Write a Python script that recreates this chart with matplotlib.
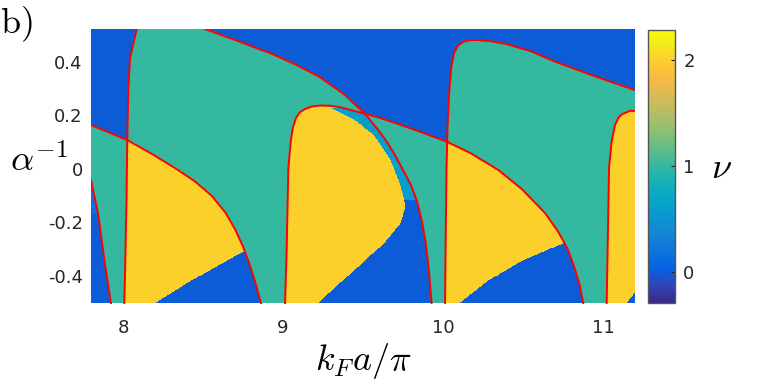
import numpy as np
import matplotlib
matplotlib.use('Agg')
import matplotlib.pyplot as plt
from matplotlib.path import Path
from matplotlib.colors import LinearSegmentedColormap

# phase boundaries: (k_F a/pi, 1/alpha)
d6_k = [7.800, 7.846, 7.888, 7.925]
d6_a = [-0.041, -0.172, -0.359, -0.503]
d7_k = [7.800, 8.027, 8.181, 8.344, 8.450, 8.554, 8.640, 8.700, 8.750, 8.790, 8.825, 8.848, 8.863]
d7_a = [0.164, 0.108, 0.056, -0.004, -0.047, -0.100, -0.163, -0.225, -0.290, -0.355, -0.421, -0.470, -0.503]
d8_rise_k = [8.008, 8.013, 8.022, 8.027, 8.033, 8.044, 8.086]
d8_rise_a = [-0.503, -0.385, -0.116, 0.116, 0.288, 0.415, 0.523]
d8_fall_k = [8.513, 8.700, 8.931, 9.080, 9.231, 9.380, 9.513, 9.600, 9.648, 9.700, 9.750,
             9.800, 9.840, 9.870, 9.893, 9.912, 9.929]
d8_fall_a = [0.523, 0.482, 0.430, 0.390, 0.343, 0.280, 0.206, 0.142, 0.102, 0.052, -0.004,
             -0.060, -0.125, -0.200, -0.280, -0.380, -0.503]
d9_k = [9.013, 9.023, 9.033, 9.039, 9.048, 9.061, 9.081, 9.106, 9.138, 9.179, 9.231, 9.294, 9.356,
        9.513, 9.606, 9.825, 10.023, 10.169, 10.346, 10.492, 10.638, 10.720, 10.780, 10.825, 10.855, 10.877]
d9_a = [-0.503, -0.303, -0.004, 0.040, 0.102, 0.152, 0.190, 0.212, 0.224, 0.233, 0.237, 0.236, 0.231,
        0.206, 0.191, 0.146, 0.102, 0.060, -0.004, -0.075, -0.165, -0.235, -0.300, -0.375, -0.435, -0.503]
d10_k = [10.013, 10.018, 10.022, 10.028, 10.038, 10.052, 10.070, 10.096, 10.130, 10.170, 10.210,
         10.290, 10.388, 10.550, 10.700, 10.850, 11.013, 11.200]
d10_a = [-0.503, -0.200, 0.000, 0.150, 0.280, 0.380, 0.435, 0.462, 0.476, 0.481, 0.482,
         0.478, 0.468, 0.440, 0.401, 0.368, 0.333, 0.295]
d11_k = [11.023, 11.038, 11.054, 11.075, 11.095, 11.117, 11.169, 11.200]
d11_a = [-0.503, 0.007, 0.102, 0.164, 0.190, 0.204, 0.217, 0.217]

# edges of the nu = 0 pockets at the bottom of the nu = 2 lobes
z78_k = [8.200, 8.388, 8.575, 8.763]
z78_a = [-0.503, -0.434, -0.370, -0.309]
z89_k = [9.221, 9.439, 9.627, 9.731, 9.763, 9.756, 9.731, 9.669, 9.564, 9.439, 9.294]
z89_a = [-0.503, -0.384, -0.284, -0.209, -0.147, -0.116, -0.060, 0.034, 0.127, 0.183, 0.227]
z910_k = [10.106, 10.281, 10.492, 10.763]
z910_a = [-0.503, -0.421, -0.347, -0.278]
z1011_k = [11.148, 11.200]
z1011_a = [-0.503, -0.465]

xlim = (7.8, 11.2)
ylim = (-0.503, 0.523)
clim = (-0.295, 2.28)

# parula-like colormap
parula = LinearSegmentedColormap.from_list('parula', [
    (0 / 63, (0.2081, 0.1663, 0.5292)), (4 / 63, (0.1959, 0.2645, 0.7279)),
    (8 / 63, (0.0117, 0.3875, 0.8820)), (12 / 63, (0.0498, 0.4586, 0.8641)),
    (16 / 63, (0.0793, 0.5200, 0.8312)), (20 / 63, (0.0343, 0.5966, 0.8199)),
    (24 / 63, (0.0228, 0.6535, 0.7768)), (28 / 63, (0.0843, 0.6928, 0.7062)),
    (32 / 63, (0.2178, 0.7250, 0.6193)), (36 / 63, (0.3953, 0.7459, 0.5244)),
    (40 / 63, (0.5709, 0.7485, 0.4494)), (44 / 63, (0.7184, 0.7411, 0.3905)),
    (48 / 63, (0.8507, 0.7299, 0.3360)), (52 / 63, (0.9739, 0.7314, 0.2666)),
    (56 / 63, (0.9880, 0.8066, 0.1794)), (60 / 63, (0.9598, 0.9218, 0.0948)),
    (63 / 63, (0.9763, 0.9831, 0.0538))])


def dome(k, a, left=False, right=False):
    pts = list(zip(k, a))
    if left:
        pts = [(7.5, a[0])] + pts
    if right:
        pts = pts + [(11.5, a[-1])]
    pts += [(pts[-1][0], -0.9), (pts[0][0], -0.9)]
    return Path(pts)


def pocket(k, a, xr):
    pts = list(zip(k, a)) + [(xr, a[-1]), (xr, -0.9), (k[0], -0.9)]
    return Path(pts)


K, A = np.meshgrid(np.linspace(*xlim, 1100), np.linspace(*ylim, 560))
P = np.column_stack([K.ravel(), A.ravel()])


def mask(path):
    return path.contains_points(P).reshape(K.shape)


domes = [dome(d6_k, d6_a, left=True), dome(d7_k, d7_a, left=True),
         dome(d8_rise_k + d8_fall_k, d8_rise_a + d8_fall_a), dome(d9_k, d9_a),
         dome(d10_k, d10_a, right=True), dome(d11_k, d11_a, right=True)]
inside = [mask(d) for d in domes]
count = np.sum(inside, axis=0)
nu = count.astype(float)

# nu = 0 pockets inside the overlaps
two = count == 2
nu[inside[0] & inside[1]] = 0
nu[inside[0] & inside[1] & (A > -0.17)] = 0.15
for path in [pocket(z78_k, z78_a, 8.95), pocket(z910_k, z910_a, 10.95),
             pocket(z1011_k, z1011_a, 11.5)]:
    nu[two & mask(path)] = 0
m89 = two & mask(pocket(z89_k, z89_a, 9.99))
nu[m89] = 0
nu[m89 & (A > -0.12)] = 0.6

plt.rcParams['mathtext.fontset'] = 'cm'
plt.rcParams['font.family'] = 'DejaVu Sans'

fig = plt.figure(figsize=(7.69, 3.85), dpi=100)
ax = fig.add_axes([91 / 769, 81.5 / 385, 544 / 769, 274.5 / 385])
im = ax.imshow(nu, extent=[*xlim, *ylim], origin='lower', aspect='auto',
               cmap=parula, vmin=clim[0], vmax=clim[1], interpolation='nearest')

red = dict(color='#ff0000', lw=1.4)
ax.plot(d6_k, d6_a, **red)
ax.plot(d7_k, d7_a, **red)
ax.plot(d8_rise_k, d8_rise_a, **red)
ax.plot(d8_fall_k, d8_fall_a, **red)
ax.plot(d9_k, d9_a, **red)
ax.plot(d10_k, d10_a, **red)
ax.plot(d11_k, d11_a, **red)

ax.set_xlim(xlim)
ax.set_ylim(ylim)
ax.set_xticks([8, 9, 10, 11])
ax.set_yticks([-0.4, -0.2, 0, 0.2, 0.4])
ax.set_yticklabels(['-0.4', '-0.2', '0', '0.2', '0.4'])
ax.tick_params(length=0, labelsize=13, labelcolor='#262626')
ax.tick_params(axis='x', pad=11)
ax.tick_params(axis='y', pad=6)
for s in ax.spines.values():
    s.set_visible(False)

cax = fig.add_axes([648.3 / 769, 82 / 385, 26.7 / 769, 273 / 385])
cb = fig.colorbar(im, cax=cax, ticks=[0, 1, 2])
cb.outline.set_edgecolor('#555555')
cb.outline.set_linewidth(1.0)
cax.tick_params(direction='in', length=3, width=0.8, color='#262626',
                labelsize=13, labelcolor='#262626', pad=6)

fig.text(363 / 769, 1 - 370 / 385, r'$k_F a/\pi$', fontsize=26, ha='center', va='baseline')
fig.text(10 / 769, 1 - 171 / 385, r'$\alpha^{-1}$', fontsize=26, ha='left', va='baseline')
fig.text(722 / 769, 1 - 178 / 385, r'$\nu$', fontsize=26, ha='center', va='baseline')
fig.text(0.0, 1 - 33 / 385, r'$\mathrm{b)}$', fontsize=26, ha='left', va='baseline')

fig.savefig('out.png', dpi=100)
